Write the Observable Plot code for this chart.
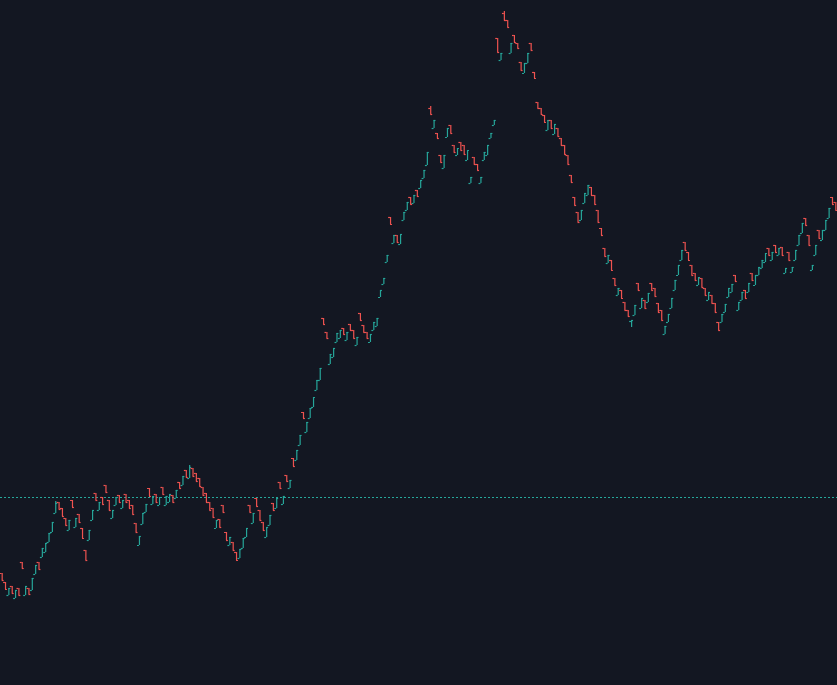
<!DOCTYPE html>
<html>
<head>
<meta charset="utf-8">
<script src="https://cdn.jsdelivr.net/npm/d3@7"></script>
<script src="https://cdn.jsdelivr.net/npm/@observablehq/plot@0.6"></script>
<style>
  html, body { margin: 0; padding: 0; background: #131722; }
  #chart { width: 837px; height: 685px; overflow: hidden; }
</style>
</head>
<body>
<div id="chart"></div>
<script>
// OHLC values (price units), one entry per bar, left to right
const open = [
  227,218,205,214,202,212,238,205,212,210,
  226,238,243,248,258,268,287,298,292,282,
  270,300,273,286,272,250,260,280,307,290,
  303,315,300,282,295,305,292,306,300,295,
  277,255,276,288,312,296,306,295,313,295,
  298,305,302,318,315,330,322,332,327,322,
  313,307,298,292,272,281,295,268,255,258,
  248,242,252,263,295,277,302,290,278,263,
  275,297,292,318,296,325,312,342,340,355,
  388,368,382,393,410,420,482,468,436,443,
  458,462,472,460,476,470,455,487,475,468,
  458,470,474,503,516,538,583,557,565,556,
  580,590,603,597,610,612,622,635,692,672,
  667,645,632,663,675,655,645,658,655,640,
  617,643,636,617,640,645,662,675,762,740,
  787,780,747,765,757,738,727,737,757,728,
  698,692,685,670,680,666,672,662,655,645,
  625,603,588,580,597,605,613,605,590,572,
  552,537,540,522,505,510,498,490,479,485,
  517,492,500,498,517,512,497,490,466,478,
  492,510,525,540,558,548,535,527,515,522,
  512,500,505,497,478,478,488,503,508,525,
  490,500,510,508,527,515,525,532,538,552,
  540,555,545,553,527,548,528,540,555,567,
  582,565,530,545,570,560,570,582,603,598
];
const high = [
  227,218,212,214,210,212,238,214,212,222,
  235,238,252,257,267,278,299,298,292,282,
  280,300,282,286,272,250,270,290,307,298,
  303,315,300,290,303,305,300,306,300,295,
  277,264,287,296,312,304,306,303,313,304,
  306,305,310,318,324,330,335,332,327,322,
  313,307,298,292,280,281,295,268,263,258,
  248,251,262,272,295,287,302,290,278,273,
  285,297,302,318,304,325,320,342,350,365,
  388,378,392,403,420,432,482,468,446,452,
  467,470,472,468,476,470,463,487,475,468,
  466,478,482,510,522,545,583,565,565,566,
  588,598,603,605,610,620,630,648,694,680,
  667,645,645,672,675,655,652,658,655,650,
  623,643,636,623,648,655,667,680,762,747,
  789,780,757,765,757,738,737,747,757,728,
  698,692,685,680,680,676,672,662,655,645,
  625,603,588,590,607,615,613,605,590,572,
  552,545,540,522,512,510,498,490,480,495,
  517,502,500,507,517,512,497,490,474,486,
  502,520,535,550,558,548,535,527,523,522,
  512,508,505,497,478,486,496,512,516,525,
  498,508,510,517,527,525,533,540,547,552,
  548,555,552,553,532,548,533,550,565,577,
  582,565,535,555,570,570,580,592,603,598
];
const low = [
  220,211,205,207,202,205,232,205,206,210,
  226,231,243,248,258,268,287,291,284,275,
  270,293,273,278,262,240,260,280,300,290,
  296,308,290,282,295,298,292,298,292,286,
  268,255,276,288,304,296,298,295,306,295,
  298,298,302,312,315,323,322,324,319,314,
  305,298,290,283,272,273,288,260,255,250,
  240,242,252,263,288,277,294,280,270,263,
  275,290,292,312,296,319,312,334,340,355,
  382,368,382,393,410,420,476,462,436,443,
  458,462,466,460,470,462,455,480,468,462,
  458,470,474,503,516,538,576,557,558,556,
  580,590,596,597,604,612,622,635,686,672,
  662,638,632,663,667,648,645,650,646,640,
  617,636,630,617,640,645,662,675,748,740,
  780,773,747,758,752,730,727,737,750,722,
  692,686,678,670,672,666,664,655,646,636,
  618,595,578,580,597,605,605,596,578,565,
  544,537,530,515,505,502,490,484,473,485,
  510,492,492,498,510,504,488,480,466,478,
  492,510,525,540,550,540,525,520,515,513,
  505,500,497,488,470,478,488,503,508,519,
  490,500,502,508,520,515,525,532,538,545,
  540,548,545,545,527,540,528,540,555,567,
  575,555,530,545,562,560,570,582,596,590
];
const close = [
  220,211,212,207,210,205,232,214,206,222,
  235,231,252,257,267,278,297,291,284,275,
  280,293,282,278,262,240,270,290,300,298,
  296,308,290,290,303,298,300,298,292,286,
  268,264,287,296,304,304,298,303,306,304,
  306,298,310,312,324,323,333,324,319,314,
  305,298,290,283,280,273,288,260,263,250,
  240,251,262,272,288,287,294,280,270,273,
  285,290,302,312,304,319,320,334,350,365,
  382,378,392,403,420,432,476,462,446,452,
  467,470,466,468,470,462,463,480,468,462,
  466,478,482,510,522,545,576,565,558,566,
  588,598,596,605,604,620,630,648,686,680,
  662,638,645,672,667,648,652,650,646,650,
  623,636,630,623,648,655,667,680,748,747,
  780,773,757,758,752,730,737,747,750,722,
  692,686,678,680,672,676,664,655,646,636,
  618,595,578,590,607,615,605,596,578,565,
  544,545,530,515,512,502,490,484,480,495,
  510,502,492,507,510,504,488,480,474,486,
  502,520,535,550,550,540,525,520,523,513,
  505,508,497,488,470,486,496,512,516,519,
  498,508,502,517,520,525,533,540,547,545,
  548,548,552,545,532,540,533,550,565,577,
  575,555,535,555,562,570,580,592,596,590
];
const referenceLevel = [303];
const upColor = "#26a69a";
const downColor = "#ef5350";
const bgColor = "#131722";

const bars = open.map((o, i) => ({i, o, h: high[i], l: low[i], c: close[i], up: close[i] >= o}));
const N = bars.length;
const half = 0.58;

function barMarks(filter, color) {
  const common = {filter, stroke: color, strokeWidth: 1.2};
  return [
    Plot.ruleX(bars, {...common, x: "i", y1: "l", y2: "h"}),
    Plot.ruleY(bars, {...common, y: "o", x1: d => d.i - half, x2: "i"}),
    Plot.ruleY(bars, {...common, y: "c", x1: "i", x2: d => d.i + half})
  ];
}

const chart = Plot.plot({
  width: 837,
  height: 685,
  margin: 0,
  x: {domain: [-0.5, N - 0.5], axis: null},
  y: {domain: [115, 800], axis: null},
  style: {background: bgColor},
  marks: [
    Plot.ruleY(referenceLevel, {stroke: upColor, strokeWidth: 1, strokeDasharray: "2,2", shapeRendering: "crispEdges"}),
    ...barMarks(d => d.up, upColor),
    ...barMarks(d => !d.up, downColor)
  ]
});
document.getElementById("chart").appendChild(chart);
</script>
</body>
</html>
